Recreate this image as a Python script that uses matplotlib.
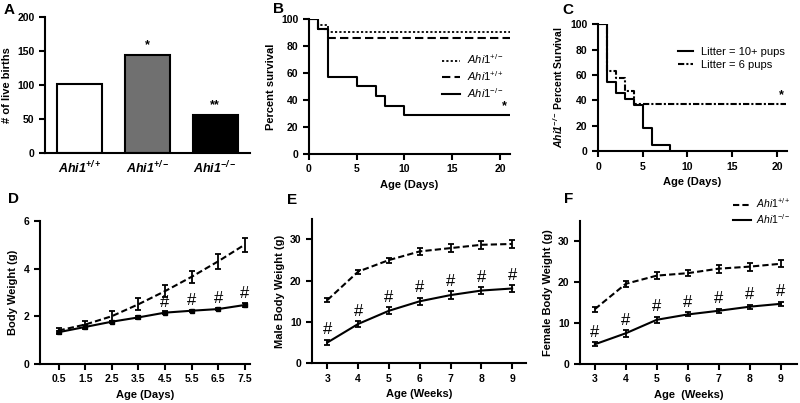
import numpy as np
import matplotlib
matplotlib.use('Agg')
import matplotlib.pyplot as plt

plt.rcParams['font.family'] = 'Liberation Sans'
plt.rcParams['font.weight'] = 'bold'
plt.rcParams['axes.labelweight'] = 'bold'
plt.rcParams['axes.linewidth'] = 1.5
plt.rcParams['mathtext.fontset'] = 'custom'
plt.rcParams['mathtext.rm'] = 'Liberation Sans:normal'
plt.rcParams['mathtext.it'] = 'Liberation Sans:italic:normal'
plt.rcParams['mathtext.bf'] = 'Liberation Sans:bold'
plt.rcParams['mathtext.bfit'] = 'Liberation Sans:italic:bold'
plt.rcParams['xtick.major.width'] = 1.5
plt.rcParams['ytick.major.width'] = 1.5
plt.rcParams['xtick.major.size'] = 4
plt.rcParams['ytick.major.size'] = 4
plt.rcParams['xtick.labelsize'] = 7.5
plt.rcParams['ytick.labelsize'] = 7.5
plt.rcParams['axes.labelsize'] = 8

# A: live births
genotypes = [r'$\mathbfit{Ahi1}^{\mathbfit{+/+}}$', r'$\mathbfit{Ahi1}^{\mathbfit{+/-}}$',
             r'$\mathbfit{Ahi1}^{\mathbfit{-/-}}$']
births = [101, 144, 56]
birth_stars = ['', '*', '**']

# B: survival by genotype (step changes)
b_het_t = [0, 1, 2, 21]
b_het_s = [100, 95.5, 90.5, 90.5]
b_wt_t = [0, 1, 2, 21]
b_wt_s = [100, 92.6, 86, 86]
b_ko_t = [0, 1, 2, 5, 7, 8, 10, 21]
b_ko_s = [100, 92.9, 57.1, 50, 42.9, 35.7, 28.6, 28.6]

# C: Ahi1-/- survival by litter size
c_big_t = [0, 1, 2, 3, 4, 5, 6, 8]
c_big_s = [100, 54.5, 45.5, 40.9, 36.4, 18.2, 4.5, 0]
c_small_t = [0, 1, 2, 3, 4, 21]
c_small_s = [100, 63.2, 57.9, 47.4, 36.8, 36.8]

# D: body weight, days
d_age = [0.5, 1.5, 2.5, 3.5, 4.5, 5.5, 6.5, 7.5]
d_wt = [1.4, 1.65, 2.0, 2.5, 3.05, 3.65, 4.3, 5.0]
d_wt_err = [0.1, 0.15, 0.2, 0.25, 0.25, 0.25, 0.3, 0.3]
d_ko = [1.33, 1.55, 1.77, 1.95, 2.15, 2.23, 2.3, 2.47]
d_ko_err = [0.07, 0.07, 0.05, 0.05, 0.05, 0.05, 0.05, 0.08]
d_hash = [False, False, False, False, True, True, True, True]

# E: male body weight, weeks
weeks = [3, 4, 5, 6, 7, 8, 9]
e_wt = [15.3, 22.2, 25.0, 27.1, 27.9, 28.7, 28.9]
e_wt_err = [0.4, 0.5, 0.6, 0.9, 1.0, 0.9, 1.0]
e_ko = [5.0, 9.5, 12.7, 15.0, 16.5, 17.6, 18.1]
e_ko_err = [0.7, 0.7, 0.9, 0.9, 0.9, 0.8, 0.8]

# F: female body weight, weeks
f_wt = [13.4, 19.6, 21.6, 22.2, 23.3, 23.8, 24.5]
f_wt_err = [0.6, 0.8, 0.9, 0.8, 1.0, 1.0, 0.9]
f_ko = [4.8, 7.5, 10.8, 12.1, 13.0, 14.0, 14.7]
f_ko_err = [0.5, 0.8, 0.7, 0.5, 0.5, 0.5, 0.5]

fig = plt.figure(figsize=(8, 4.03), dpi=100)

axA = fig.add_axes([0.056, 0.620, 0.256, 0.338])
axB = fig.add_axes([0.386, 0.618, 0.251, 0.335])
axC = fig.add_axes([0.7475, 0.625, 0.236, 0.315])
axD = fig.add_axes([0.050, 0.097, 0.2625, 0.355])
axE = fig.add_axes([0.390, 0.099, 0.2675, 0.358])
axF = fig.add_axes([0.725, 0.097, 0.271, 0.355])

for ax in [axA, axB, axC, axD, axE, axF]:
    ax.spines['top'].set_visible(False)
    ax.spines['right'].set_visible(False)

# A
x = np.arange(len(births))
axA.bar(x, births, width=0.66, color=['white', '#707070', 'black'], edgecolor='black', linewidth=1.5)
for i in range(len(births)):
    axA.text(x[i], births[i] + 6, birth_stars[i], ha='center', va='bottom', fontsize=9)
axA.set_xlim(-0.507, 2.507)
axA.set_ylim(0, 200)
axA.set_yticks([0, 50, 100, 150, 200])
axA.set_xticks(x)
axA.set_xticklabels(genotypes, fontsize=9)
axA.tick_params(axis='x', length=0, pad=5)
axA.set_ylabel('# of live births')

# B
axB.step(b_het_t, b_het_s, where='post', color='black', lw=1.3, linestyle=(0, (1.2, 1.2)),
         label=r'$\mathit{Ahi1}^{+/-}$')
axB.step(b_wt_t, b_wt_s, where='post', color='black', lw=1.5, linestyle=(0, (4, 2)),
         label=r'$\mathit{Ahi1}^{+/+}$')
axB.step(b_ko_t, b_ko_s, where='post', color='black', lw=1.5, label=r'$\mathit{Ahi1}^{-/-}$')
axB.text(20.5, 31, '*', ha='center', va='bottom', fontsize=9)
axB.set_xlim(0, 21)
axB.set_ylim(0, 100)
axB.set_xticks([0, 5, 10, 15, 20])
axB.set_yticks([0, 20, 40, 60, 80, 100])
axB.set_xlabel('Age (Days)')
axB.set_ylabel('Percent survival')
axB.legend(loc='upper right', bbox_to_anchor=(0.97, 0.75), frameon=False,
           prop={'size': 8, 'weight': 'normal'}, handlelength=1.6, handletextpad=0.6,
           labelspacing=0.25, borderpad=0, borderaxespad=0)

# C
axC.step(c_big_t, c_big_s, where='post', color='black', lw=1.5, label='Litter = 10+ pups')
axC.step(c_small_t, c_small_s, where='post', color='black', lw=1.5, linestyle=(0, (3, 1, 1, 1)),
         label='Litter = 6 pups')
axC.text(20.5, 39, '*', ha='center', va='bottom', fontsize=9)
axC.set_xlim(0, 21.1)
axC.set_ylim(0, 100)
axC.set_xticks([0, 5, 10, 15, 20])
axC.set_yticks([0, 20, 40, 60, 80, 100])
axC.set_xlabel('Age (Days)')
axC.set_ylabel(r'$\mathbfit{Ahi1}^{\mathbfit{-/-}}$ Percent Survival', fontsize=7.5)
axC.legend(loc='upper right', bbox_to_anchor=(0.99, 0.82), frameon=False,
           prop={'size': 8, 'weight': 'normal'}, handlelength=1.4, handletextpad=0.7,
           labelspacing=0.3, borderpad=0, borderaxespad=0)

# D
axD.errorbar(d_age, d_wt, yerr=d_wt_err, color='black', lw=1.5, linestyle=(0, (3, 1.5)),
             capsize=2.5, elinewidth=1.3, capthick=1.3)
axD.errorbar(d_age, d_ko, yerr=d_ko_err, color='black', lw=1.5, capsize=2.5,
             elinewidth=1.3, capthick=1.3, marker='s', markersize=2.5)
for i in range(len(d_age)):
    if d_hash[i]:
        axD.text(d_age[i], d_ko[i] + d_ko_err[i] + 0.08, '#', ha='center', va='bottom',
                 fontsize=12, fontweight='normal')
axD.set_xlim(-0.2, 7.7)
axD.set_ylim(0, 6)
axD.set_xticks(d_age)
axD.set_xticklabels([str(a) for a in d_age])
axD.set_yticks([0, 2, 4, 6])
axD.set_xlabel('Age (Days)')
axD.set_ylabel('Body Weight (g)')

# E
axE.errorbar(weeks, e_wt, yerr=e_wt_err, color='black', lw=1.5, linestyle=(0, (3, 1.5)),
             capsize=2.5, elinewidth=1.3, capthick=1.3)
axE.errorbar(weeks, e_ko, yerr=e_ko_err, color='black', lw=1.5, capsize=2.5,
             elinewidth=1.3, capthick=1.3)
for i in range(len(weeks)):
    axE.text(weeks[i], e_ko[i] + e_ko_err[i] + 0.6, '#', ha='center', va='bottom',
             fontsize=12, fontweight='normal')
axE.set_xlim(2.5, 9.45)
axE.set_ylim(0, 35)
axE.set_xticks(weeks)
axE.set_yticks([0, 10, 20, 30])
axE.set_xlabel('Age (Weeks)')
axE.set_ylabel('Male Body Weight (g)')

# F
axF.errorbar(weeks, f_wt, yerr=f_wt_err, color='black', lw=1.5, linestyle=(0, (3, 1.5)),
             capsize=2.5, elinewidth=1.3, capthick=1.3, label=r'$\mathit{Ahi1}^{+/+}$')
axF.errorbar(weeks, f_ko, yerr=f_ko_err, color='black', lw=1.5, capsize=2.5,
             elinewidth=1.3, capthick=1.3, label=r'$\mathit{Ahi1}^{-/-}$')
for i in range(len(weeks)):
    axF.text(weeks[i], f_ko[i] + f_ko_err[i] + 0.6, '#', ha='center', va='bottom',
             fontsize=12, fontweight='normal')
axF.set_xlim(2.52, 9.52)
axF.set_ylim(0, 35)
axF.set_xticks(weeks)
axF.set_yticks([0, 10, 20, 30])
axF.set_xlabel('Age  (Weeks)')
axF.set_ylabel('Female Body Weight (g)')
h, l = axF.get_legend_handles_labels()
h = [hh[0] for hh in h]
axF.legend(h, l, loc='upper right', bbox_to_anchor=(0.97, 1.17), frameon=False,
           prop={'size': 7.5, 'weight': 'normal'}, handlelength=1.8, handletextpad=0.4,
           labelspacing=0.15, borderpad=0, borderaxespad=0)

# panel letters
fig.text(0.004, 0.975, 'A', fontsize=11, fontweight='bold', va='center')
fig.text(0.341, 0.978, 'B', fontsize=11, fontweight='bold', va='center')
fig.text(0.7025, 0.975, 'C', fontsize=11, fontweight='bold', va='center')
fig.text(0.010, 0.506, 'D', fontsize=11, fontweight='bold', va='center')
fig.text(0.359, 0.504, 'E', fontsize=11, fontweight='bold', va='center')
fig.text(0.705, 0.506, 'F', fontsize=11, fontweight='bold', va='center')

fig.savefig('out.png', dpi=100)
